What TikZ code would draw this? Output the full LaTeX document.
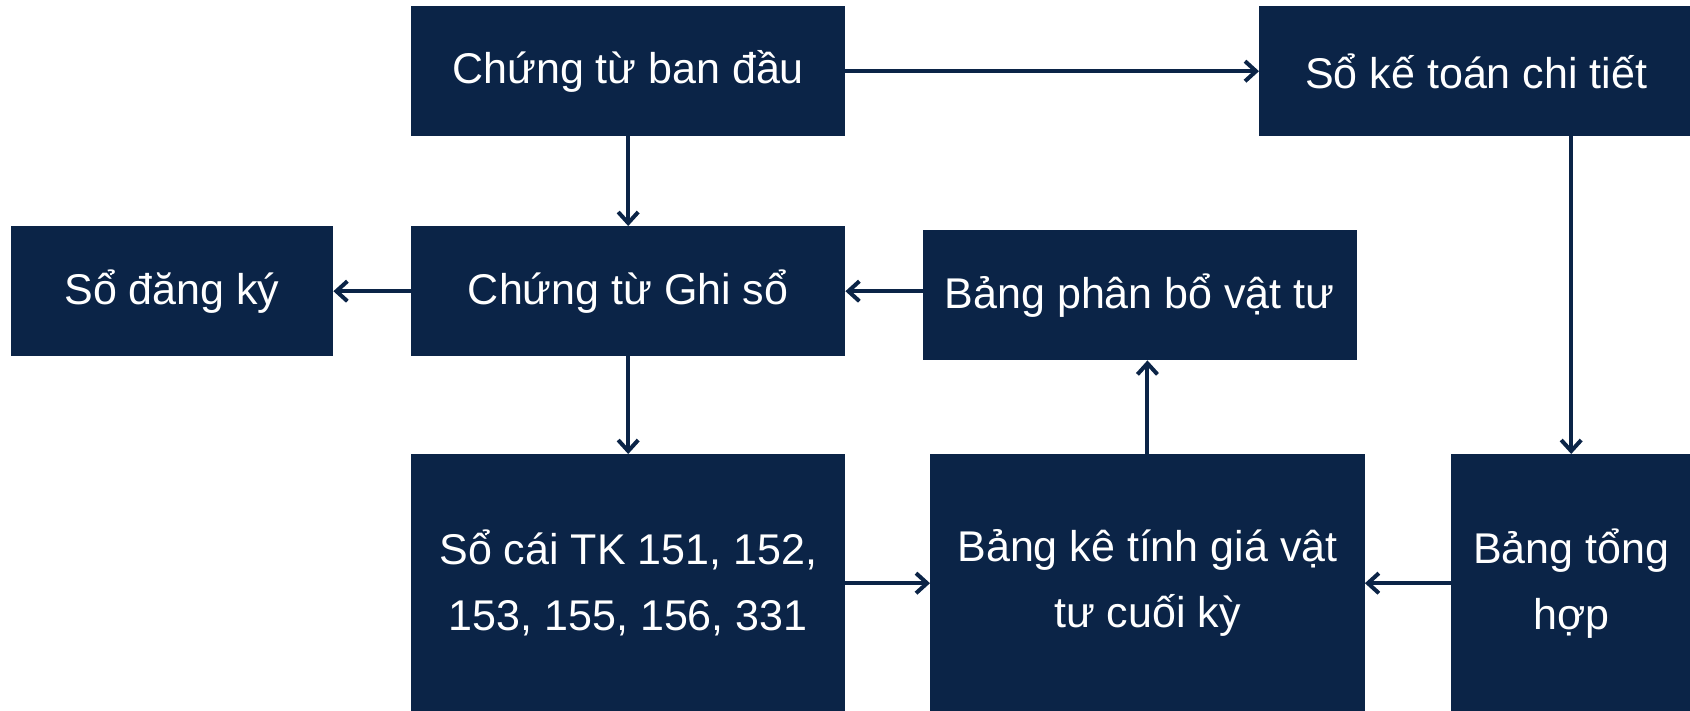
\documentclass[tikz,border=0pt]{standalone}
\usepackage{fontspec}
\setmainfont{Liberation Sans}
\usetikzlibrary{arrows.meta,calc}
\definecolor{navy}{RGB}{11,36,71}
\tikzset{
  box/.style={fill=navy, draw=none, text=white, anchor=north west, align=center,
    inner sep=0pt, font=\fontsize{43}{66}\selectfont},
  flow/.style={draw=navy, line width=4pt, -{Straight Barb[length=11pt,width=20pt]}}
}
\begin{document}
\begin{tikzpicture}[x=1pt,y=-1pt]
\useasboundingbox (0,0) rectangle (1690,710);
% boxes: upper-left corner, then size
\node[box, minimum width=434pt, minimum height=130pt] (ban) at (411,6) {Chứng từ ban đầu};
\node[box, minimum width=434pt, minimum height=130pt] (sokt) at (1259,6) {Sổ kế toán chi tiết};
\node[box, minimum width=322.5pt, minimum height=130pt] (dangky) at (10.5,226) {Sổ đăng ký};
\node[box, minimum width=434pt, minimum height=130pt] (ghiso) at (411,226) {Chứng từ Ghi sổ};
\node[box, minimum width=434pt, minimum height=130pt] (phanbo) at (922.5,230) {Bảng phân bổ vật tư};
\node[box, minimum width=434pt, minimum height=258pt] (socai) at (411,454) {Sổ cái TK 151, 152,\\153, 155, 156, 331};
\node[box, minimum width=434.5pt, minimum height=258pt] (bangke) at (930,454) {Bảng kê tính giá vật\\tư cuối kỳ};
\node[box, minimum width=240pt, minimum height=258pt] (tonghop) at (1451,454) {Bảng tổng\\hợp};
% connectors
\draw[flow] (ban.east) -- (sokt.west);
\draw[flow] (ban.south) -- (ghiso.north);
\draw[flow] (ghiso.west) -- (dangky.east);
\draw[flow] (phanbo.west |- ghiso.east) -- (ghiso.east);
\draw[flow] (ghiso.south) -- (socai.north);
\draw[flow] (socai.east) -- (bangke.west);
\draw[flow] (tonghop.west) -- (bangke.east);
\draw[flow] (bangke.north) -- (bangke.north |- phanbo.south);
\draw[flow] (tonghop.north |- sokt.south) -- (tonghop.north);
\end{tikzpicture}
\end{document}
